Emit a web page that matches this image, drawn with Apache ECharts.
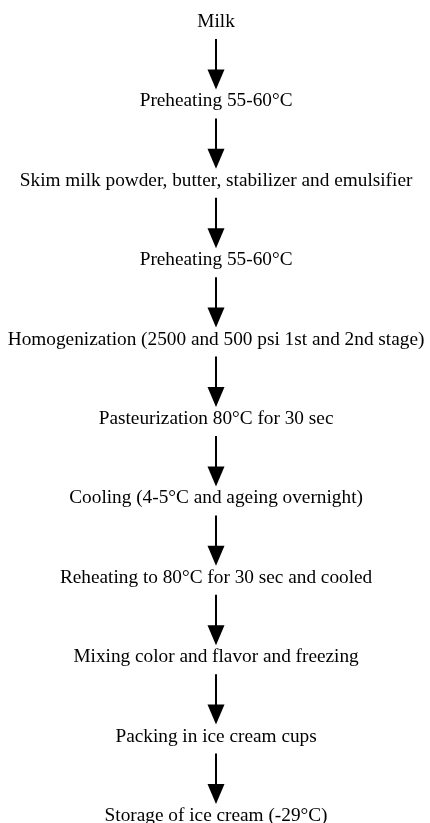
<!DOCTYPE html>
<html><head><meta charset="utf-8">
<script src="https://cdn.jsdelivr.net/npm/echarts@6/dist/echarts.min.js"></script>
<style>html,body{margin:0;padding:0;background:#fff}#c{width:430px;height:823px}</style>
</head><body><div id="c"></div>
<script>
const steps = [
  'Milk',
  'Preheating 55-60°C',
  'Skim milk powder, butter, stabilizer and emulsifier',
  'Preheating 55-60°C',
  'Homogenization (2500 and 500 psi 1st and 2nd stage)',
  'Pasteurization 80°C for 30 sec',
  'Cooling (4-5°C and ageing overnight)',
  'Reheating to 80°C for 30 sec and cooled',
  'Mixing color and flavor and freezing',
  'Packing in ice cream cups',
  'Storage of ice cream (-29°C)'
];
const links = steps.slice(0, -1).map((s, i) => [i, i + 1]);

const chart = echarts.init(document.getElementById('c'), null, {renderer: 'canvas'});
chart.setOption({
  animation: false,
  grid: {left: 0, right: 0, top: 22, bottom: 7},
  xAxis: {type: 'value', min: -1, max: 1, show: false},
  yAxis: {type: 'value', min: 0, max: steps.length - 1, inverse: true, show: false},
  series: [
    {
      type: 'scatter',
      symbolSize: 0,
      itemStyle: {opacity: 1},
      data: steps.map((s, i) => [0.005, i]),
      label: {
        show: true, position: 'inside', formatter: p => steps[p.dataIndex],
        color: '#000', fontFamily: '"Liberation Serif", "DejaVu Serif", serif', fontSize: 19.3
      }
    },
    {
      type: 'custom',
      data: links,
      renderItem: (params, api) => {
        const a = api.coord([0, api.value(0)]);
        const b = api.coord([0, api.value(1)]);
        const x = a[0] + 1;
        const y0 = a[1] + 17, y1 = b[1] - 12;
        const hh = 20, hw = 8.5;
        return {
          type: 'group',
          children: [
            {type: 'line', shape: {x1: x, y1: y0, x2: x, y2: y1 - hh + 2}, style: {stroke: '#000', lineWidth: 2}},
            {type: 'polygon', shape: {points: [[x - hw, y1 - hh], [x + hw, y1 - hh], [x, y1]]}, style: {fill: '#000'}}
          ]
        };
      }
    }
  ]
});
</script></body></html>
